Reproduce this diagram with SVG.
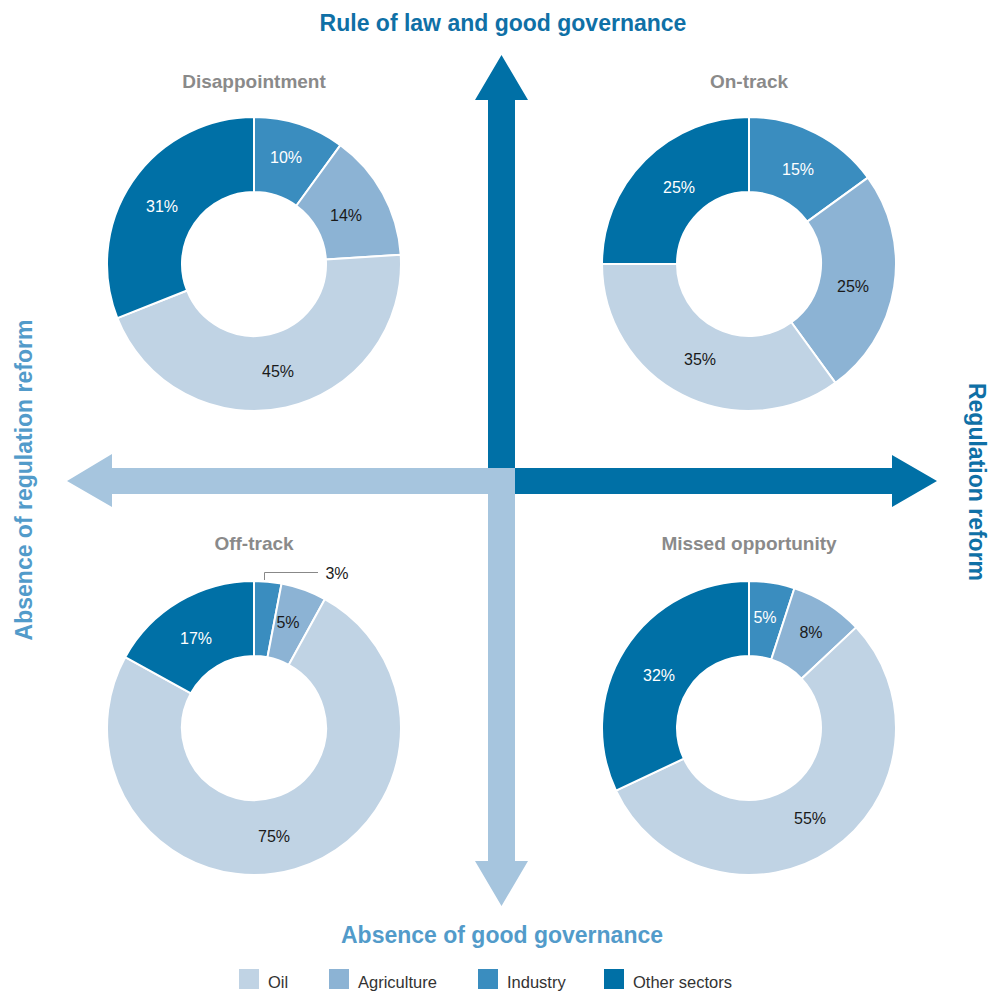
<svg xmlns="http://www.w3.org/2000/svg" width="989" height="992" viewBox="0 0 989 992">
<style>
.oil{fill:#c0d3e4}.agr{fill:#8cb3d4}.ind{fill:#3a8dbf}.oth{fill:#0070a6}
.sl{stroke:#fff;stroke-width:2;stroke-linejoin:round}
.title{font-family:"Liberation Sans",Arial,sans-serif;font-weight:bold;font-size:19px;fill:#8a8a8a;text-anchor:middle}
.lbl{font-family:"Liberation Sans",Arial,sans-serif;font-size:16px;text-anchor:middle}
.w{fill:#fff}.k{fill:#1a1a1a}
.axd{font-family:"Liberation Sans",Arial,sans-serif;font-weight:bold;font-size:23px;fill:#0f70a6;text-anchor:middle}
.axl{font-family:"Liberation Sans",Arial,sans-serif;font-weight:bold;font-size:23px;fill:#529bca;text-anchor:middle}
.leg{font-family:"Liberation Sans",Arial,sans-serif;font-size:16.5px;fill:#333}
.dark{fill:#0070a6}.light{fill:#a6c5de}
</style>
<rect width="989" height="992" fill="#fff"/>
<g id="connectors">
  <polygon class="light" points="515,468 112,468 112,454 67,481 112,507 112,494 515,494"/>
  <polygon class="light" points="488,494 515,494 515,861 528,861 501.5,906 475,861 488,861"/>
  <polygon class="dark" points="488,468 488,100 475,100 501.5,55 528,100 515,100 515,468"/>
  <polygon class="dark" points="515,468 892,468 892,455 937,481 892,507 892,494 515,494"/>
</g>
<g id="axis-labels">
  <text class="axd" x="503" y="31">Rule of law and good governance</text>
  <text class="axl" x="502" y="943">Absence of good governance</text>
  <text class="axl" transform="translate(32,480) rotate(-90)">Absence of regulation reform</text>
  <text class="axd" transform="translate(969,482) rotate(90)">Regulation reform</text>
</g>
<g id="disappointment">
  <text class="title" x="254" y="88">Disappointment</text>
  <g transform="translate(254,264)">
    <path class="ind sl" d="M0,-147A147,147 0 0 1 86.41,-118.92L42.32,-58.25A72,72 0 0 0 0,-72Z"/>
    <path class="agr sl" d="M86.41,-118.92A147,147 0 0 1 146.71,-9.23L71.86,-4.52A72,72 0 0 0 42.32,-58.25Z"/>
    <path class="oil sl" d="M146.71,-9.23A147,147 0 0 1 -136.68,54.11L-66.95,26.5A72,72 0 0 0 71.86,-4.52Z"/>
    <path class="oth sl" d="M-136.68,54.11A147,147 0 0 1 0,-147L0,-72A72,72 0 0 0 -66.95,26.5Z"/>
  </g>
  <text class="lbl w" x="286" y="163">10%</text>
  <text class="lbl k" x="346" y="221">14%</text>
  <text class="lbl k" x="278" y="377">45%</text>
  <text class="lbl w" x="162" y="212">31%</text>
</g>
<g id="on-track">
  <text class="title" x="749" y="88">On-track</text>
  <g transform="translate(749,264)">
    <path class="ind sl" d="M0,-147A147,147 0 0 1 118.92,-86.41L58.25,-42.32A72,72 0 0 0 0,-72Z"/>
    <path class="agr sl" d="M118.92,-86.41A147,147 0 0 1 86.41,118.92L42.32,58.25A72,72 0 0 0 58.25,-42.32Z"/>
    <path class="oil sl" d="M86.41,118.92A147,147 0 0 1 -147,0L-72,0A72,72 0 0 0 42.32,58.25Z"/>
    <path class="oth sl" d="M-147,0A147,147 0 0 1 0,-147L0,-72A72,72 0 0 0 -72,0Z"/>
  </g>
  <text class="lbl w" x="798" y="175">15%</text>
  <text class="lbl k" x="853" y="292">25%</text>
  <text class="lbl k" x="700" y="365">35%</text>
  <text class="lbl w" x="679" y="193">25%</text>
</g>
<g id="off-track">
  <text class="title" x="254" y="550">Off-track</text>
  <g transform="translate(254,728)">
    <path class="ind sl" d="M0,-147A147,147 0 0 1 27.55,-144.4L13.49,-70.72A72,72 0 0 0 0,-72Z"/>
    <path class="agr sl" d="M27.55,-144.4A147,147 0 0 1 70.82,-128.82L34.69,-63.09A72,72 0 0 0 13.49,-70.72Z"/>
    <path class="oil sl" d="M70.82,-128.82A147,147 0 1 1 -128.82,-70.82L-63.09,-34.69A72,72 0 1 0 34.69,-63.09Z"/>
    <path class="oth sl" d="M-128.82,-70.82A147,147 0 0 1 0,-147L0,-72A72,72 0 0 0 -63.09,-34.69Z"/>
  </g>
  <polyline points="264.5,580 264.5,572.5 318,572.5" fill="none" stroke="#888" stroke-width="1"/>
  <text class="lbl k" x="337" y="579">3%</text>
  <text class="lbl k" x="288" y="628">5%</text>
  <text class="lbl k" x="274" y="842">75%</text>
  <text class="lbl w" x="196" y="644">17%</text>
</g>
<g id="missed-opportunity">
  <text class="title" x="749" y="550">Missed opportunity</text>
  <g transform="translate(749,728)">
    <path class="ind sl" d="M0,-147A147,147 0 0 1 45.43,-139.8L22.25,-68.48A72,72 0 0 0 0,-72Z"/>
    <path class="agr sl" d="M45.43,-139.8A147,147 0 0 1 107.16,-100.63L52.49,-49.29A72,72 0 0 0 22.25,-68.48Z"/>
    <path class="oil sl" d="M107.16,-100.63A147,147 0 1 1 -133.01,62.59L-65.15,30.66A72,72 0 1 0 52.49,-49.29Z"/>
    <path class="oth sl" d="M-133.01,62.59A147,147 0 0 1 0,-147L0,-72A72,72 0 0 0 -65.15,30.66Z"/>
  </g>
  <text class="lbl w" x="765" y="623">5%</text>
  <text class="lbl k" x="811" y="638">8%</text>
  <text class="lbl k" x="810" y="824">55%</text>
  <text class="lbl w" x="659" y="681">32%</text>
</g>
<g id="legend">
  <rect class="oil" x="239" y="969" width="20" height="20"/>
  <text class="leg" x="268" y="988">Oil</text>
  <rect class="agr" x="329" y="969" width="20" height="20"/>
  <text class="leg" x="358" y="988">Agriculture</text>
  <rect class="ind" x="478" y="969" width="20" height="20"/>
  <text class="leg" x="507" y="988">Industry</text>
  <rect class="oth" x="604" y="969" width="20" height="20"/>
  <text class="leg" x="633" y="988">Other sectors</text>
</g>
</svg>
